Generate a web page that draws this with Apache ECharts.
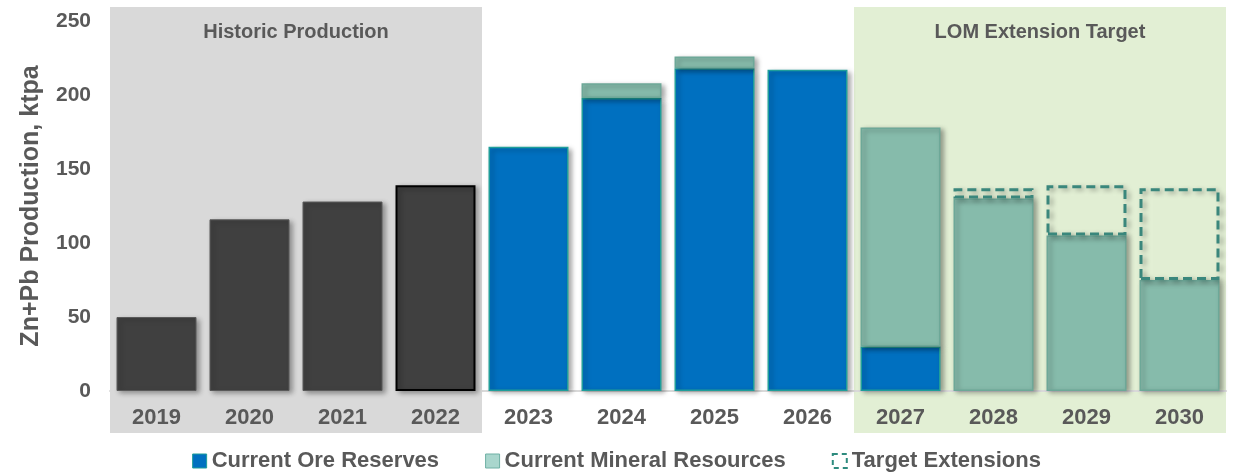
<!DOCTYPE html>
<html>
<head>
<meta charset="utf-8">
<script src="https://cdn.jsdelivr.net/npm/echarts@6/dist/echarts.min.js"></script>
<style>
  html, body { margin: 0; padding: 0; background: #fff; }
  #main { width: 1233px; height: 473px; }
</style>
</head>
<body>
<div id="main"></div>
<script>
const years = ['2019', '2020', '2021', '2022', '2023', '2024', '2025', '2026', '2027', '2028', '2029', '2030'];
const historic = [50, 116, 128, 139, null, null, null, null, null, null, null, null];
const oreReserves = [null, null, null, null, 165, 198, 218, 217, 30, null, null, null];
const mineralResources = [null, null, null, null, null, 10, 8, null, 148, 130, 105, 75];
const targetExtensions = [null, null, null, null, null, null, null, null, null, 7, 34, 62];
const yTicks = [0, 50, 100, 150, 200, 250];

const txt = '#595959';
const font = 'Liberation Sans, Arial, sans-serif';
const shadow = { shadowColor: 'rgba(0,0,0,0.35)', shadowBlur: 5, shadowOffsetX: 3, shadowOffsetY: 2 };

const chart = echarts.init(document.getElementById('main'));

const option = {
  animation: false,
  textStyle: { fontFamily: font },
  grid: { left: 110, right: 7, top: 21, bottom: 82 },
  legend: {
    top: 450,
    left: 'center',
    padding: 0,
    itemWidth: 14,
    itemHeight: 14,
    itemGap: 46,
    textStyle: { color: txt, fontSize: 22, fontWeight: 'bold', fontFamily: font },
    data: [
      { name: 'Current Ore Reserves', icon: 'rect', itemStyle: { color: '#0070C0', borderColor: '#1F9E9A', borderWidth: 1 } },
      { name: 'Current Mineral Resources', icon: 'rect', itemStyle: { color: '#A9D6CD', borderColor: '#6FB0A5', borderWidth: 1 } },
      { name: 'Target Extensions', icon: 'rect', itemStyle: { color: 'transparent', borderColor: '#2E8B7E', borderWidth: 2, borderType: [5, 4] } }
    ]
  },
  xAxis: {
    type: 'category',
    data: years,
    axisLine: { lineStyle: { color: '#D9D9D9', width: 2 } },
    axisTick: { show: false },
    axisLabel: { color: txt, fontSize: 22, fontWeight: 'bold', margin: 16 }
  },
  yAxis: {
    type: 'value',
    min: yTicks[0],
    max: yTicks[yTicks.length - 1],
    interval: 50,
    name: 'Zn+Pb Production, ktpa',
    nameLocation: 'middle',
    nameRotate: 90,
    nameGap: 66,
    nameTextStyle: { color: txt, fontSize: 25, fontWeight: 'bold' },
    splitLine: { show: false },
    axisLine: { show: false },
    axisTick: { show: false },
    axisLabel: { color: txt, fontSize: 21, fontWeight: 'bold', margin: 19 }
  },
  series: [
    {
      name: 'Historic',
      type: 'bar',
      stack: 'total',
      barCategoryGap: '14%',
      itemStyle: Object.assign({ color: '#404040', borderColor: '#5a5a5a', borderWidth: 1 }, shadow),
      data: historic.map((v, i) => i === 3
        ? { value: v, itemStyle: { borderColor: '#000', borderWidth: 2 } }
        : v)
    },
    {
      name: 'Current Ore Reserves',
      type: 'bar',
      stack: 'total',
      itemStyle: Object.assign({ color: '#0070C0', borderColor: '#1F9E9A', borderWidth: 1.5 }, shadow),
      data: oreReserves
    },
    {
      name: 'Current Mineral Resources',
      type: 'bar',
      stack: 'total',
      itemStyle: Object.assign({ color: '#86BBAB', borderColor: '#6DA898', borderWidth: 1.5 }, shadow),
      data: mineralResources
    },
    {
      name: 'Target Extensions',
      type: 'bar',
      stack: 'total',
      z: 3,
      itemStyle: Object.assign({ color: 'rgba(226,239,218,0.01)', borderColor: '#3A877C', borderWidth: 3, borderType: [9, 5] }, shadow),
      data: targetExtensions
    }
  ]
};

chart.setOption(option);

// shaded period backgrounds, placed from the axis scales
function band(fromIdx, toIdx) {
  const a = chart.convertToPixel({ xAxisIndex: 0 }, years[fromIdx]);
  const b = chart.convertToPixel({ xAxisIndex: 0 }, years[toIdx]);
  const step = chart.convertToPixel({ xAxisIndex: 0 }, years[1]) - chart.convertToPixel({ xAxisIndex: 0 }, years[0]);
  return { x0: a - step / 2, x1: b + step / 2 };
}
const yTop = chart.convertToPixel({ yAxisIndex: 0 }, yTicks[yTicks.length - 1]) - 14;
const yBot = chart.convertToPixel({ yAxisIndex: 0 }, 0) + 42;
const hist = band(0, 3);
const lom = band(8, 11);

chart.setOption({
  graphic: [
    { type: 'rect', z: -10, shape: { x: hist.x0, y: yTop, width: hist.x1 - hist.x0, height: yBot - yTop }, style: { fill: '#D9D9D9' } },
    { type: 'rect', z: -10, shape: { x: lom.x0, y: yTop, width: lom.x1 - lom.x0, height: yBot - yTop }, style: { fill: '#E2EFD4' } },
    { type: 'text', z: 5, x: (hist.x0 + hist.x1) / 2, y: yTop + 25, style: { text: 'Historic Production', fill: txt, font: 'bold 20px ' + font, textAlign: 'center', textVerticalAlign: 'middle' } },
    { type: 'text', z: 5, x: (lom.x0 + lom.x1) / 2, y: yTop + 25, style: { text: 'LOM Extension Target', fill: txt, font: 'bold 20px ' + font, textAlign: 'center', textVerticalAlign: 'middle' } }
  ]
});
</script>
</body>
</html>
